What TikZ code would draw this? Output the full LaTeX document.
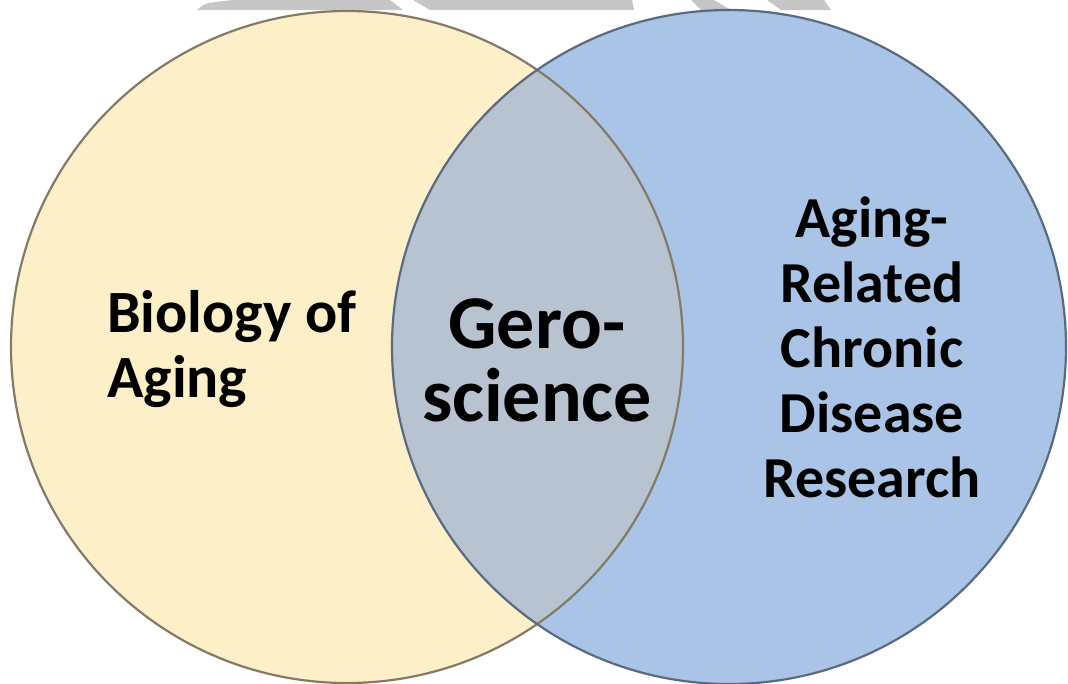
\documentclass[tikz,border=0pt]{standalone}
\usepackage{fontspec}
\setmainfont{Carlito}
\definecolor{agingyellow}{HTML}{FDEFC8}
\definecolor{diseaseblue}{HTML}{A9C4E6}
\definecolor{overlapgray}{HTML}{B7C3D0}
\definecolor{yellowedge}{HTML}{857A66}
\definecolor{blueedge}{HTML}{5A6A80}
\definecolor{markgray}{HTML}{C6C6C6}
\tikzset{
  venntext/.style={inner sep=0pt, text=black},
}

\begin{document}
\begin{tikzpicture}[x=1pt,y=-1pt]
	\fill[white] (0,0) rectangle (1068,683);
	\useasboundingbox (0,0) rectangle (1068,683);
	% faint mark along the top edge
	\fill[markgray] (197,10) .. controls (205,3) .. (233,0) -- (390,0) -- (403,10) -- cycle;
	\fill[markgray] (413,0) -- (632,0) -- (634,10) -- (430,10) -- cycle;
	\fill[markgray] (691,0) -- (714,0) -- (731,10) -- (701,10) -- cycle;
	\fill[markgray] (767,0) -- (824,0) -- (831,10) -- (781,10) -- cycle;
	% the two sets
	\coordinate (cl) at (347,347);
	\coordinate (cr) at (729,347);
	\fill[agingyellow] (cl) circle[radius=336];
	\fill[diseaseblue] (cr) circle[radius=337];
	\begin{scope}
		\clip (cl) circle[radius=336];
		\fill[overlapgray] (cr) circle[radius=337];
	\end{scope}
	\draw[yellowedge,line width=2.2] (cl) circle[radius=336];
	\draw[blueedge,line width=2.2] (cr) circle[radius=337];
	% labels
	\node[venntext,align=left,anchor=west,font=\fontsize{60}{65}\selectfont\bfseries] (biology) at (107,349) {Biology of\\Aging};
	\node[venntext,align=center,font=\fontsize{76}{73}\selectfont\bfseries] (gero) at (537,360) {Gero-\\science};
	\node[venntext,align=center,font=\fontsize{58}{65}\selectfont\bfseries] (disease) at (872,347) {Aging-\\Related\\Chronic\\Disease\\Research};
\end{tikzpicture}
\end{document}
